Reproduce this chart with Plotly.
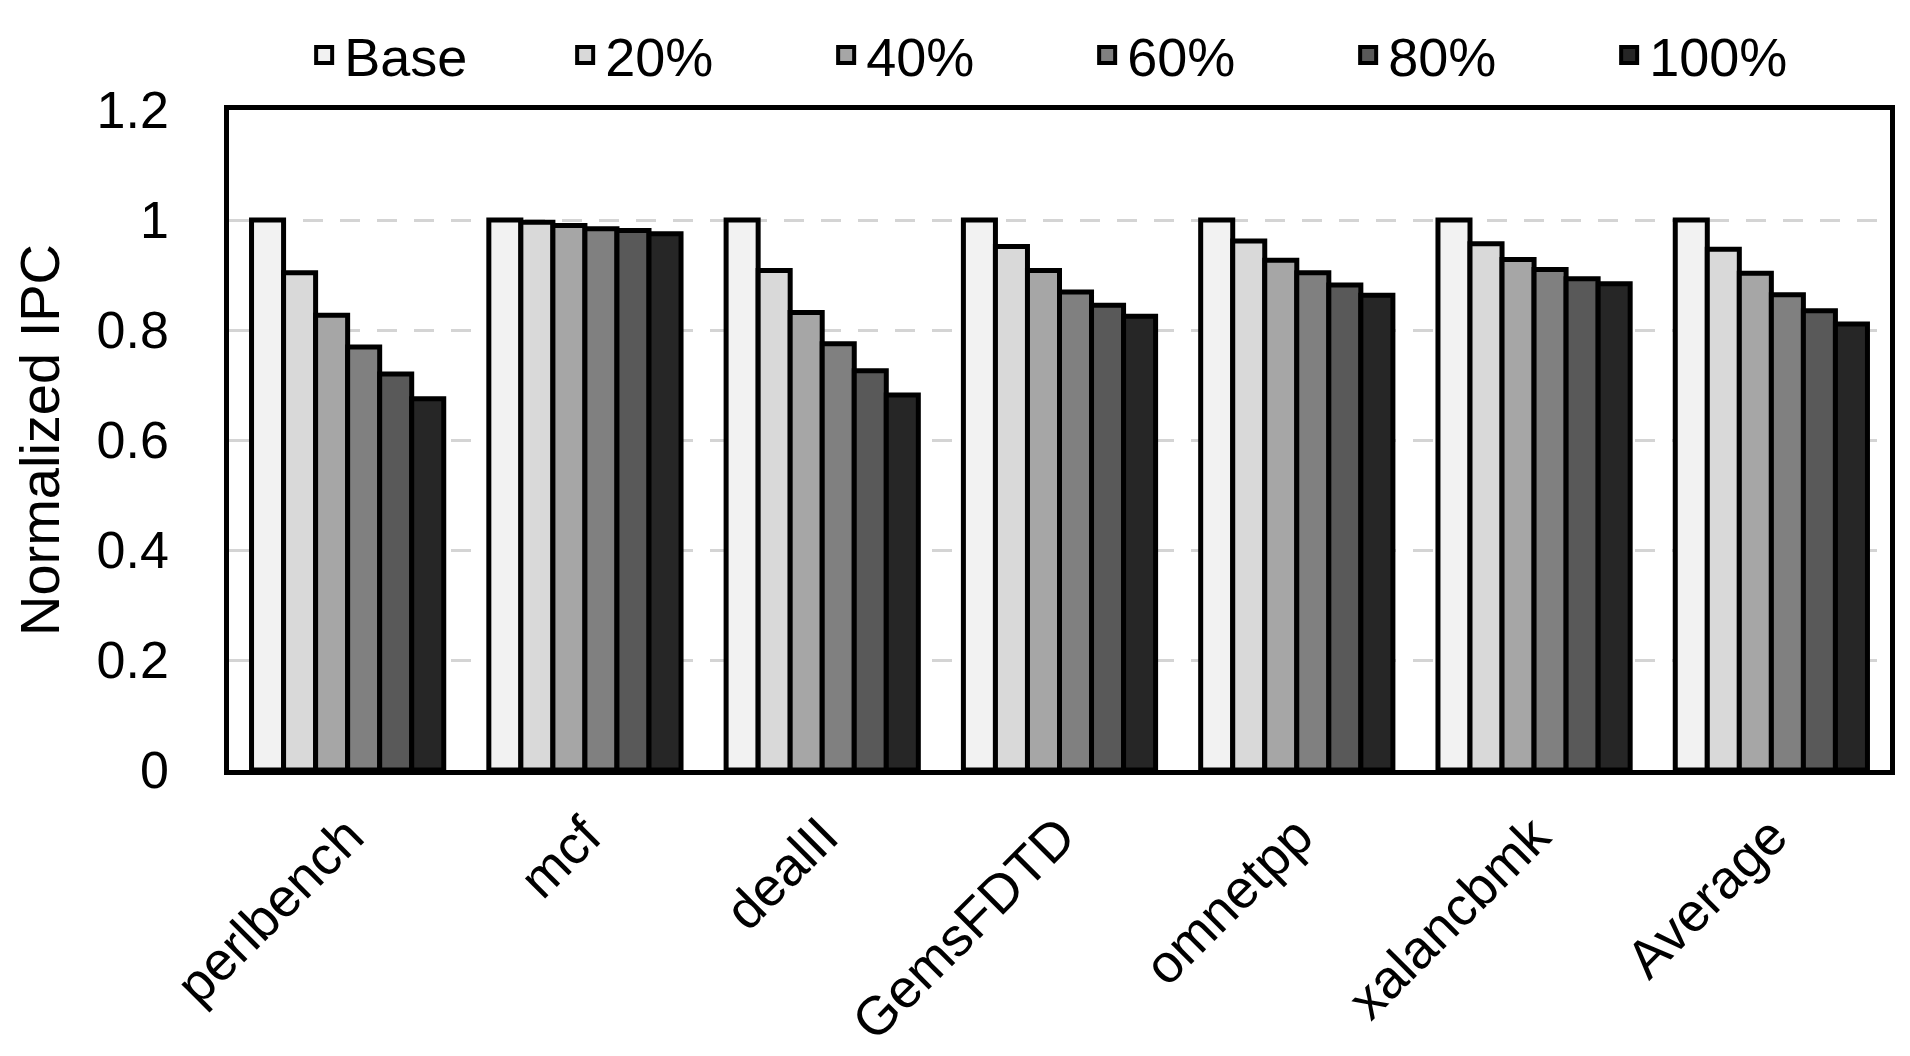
import plotly.graph_objects as go

categories = ["perlbench", "mcf", "dealII", "GemsFDTD", "omnetpp", "xalancbmk", "Average"]
series_names = ["Base", "20%", "40%", "60%", "80%", "100%"]
base = [1.0, 1.0, 1.0, 1.0, 1.0, 1.0, 1.0]
p20 = [0.904, 0.996, 0.908, 0.952, 0.962, 0.957, 0.947]
p40 = [0.827, 0.990, 0.832, 0.908, 0.927, 0.928, 0.903]
p60 = [0.769, 0.984, 0.775, 0.869, 0.904, 0.910, 0.864]
p80 = [0.720, 0.981, 0.726, 0.845, 0.882, 0.893, 0.835]
p100 = [0.675, 0.975, 0.682, 0.825, 0.863, 0.884, 0.811]
series_values = [base, p20, p40, p60, p80, p100]
colors = ["#f2f2f2", "#d9d9d9", "#a6a6a6", "#808080", "#595959", "#262626"]
y_ticks = [0, 0.2, 0.4, 0.6, 0.8, 1, 1.2]
y_tick_labels = ["0", "0.2", "0.4", "0.6", "0.8", "1", "1.2"]

FONT = "Liberation Sans, Arial, sans-serif"

fig = go.Figure()
for name, vals, col in zip(series_names, series_values, colors):
    fig.add_trace(go.Bar(
        x=categories, y=vals, name=name, showlegend=False,
        marker=dict(color=col, line=dict(color="black", width=5)),
    ))
# legend entries
for name, col in zip(series_names, colors):
    fig.add_trace(go.Scatter(
        x=[None], y=[None], mode="markers", name=name,
        marker=dict(symbol="square", size=16, color=col,
                    line=dict(color="black", width=4)),
    ))

fig.update_layout(
    width=1910, height=1056,
    margin=dict(l=221, r=28, t=102, b=294, autoexpand=False),
    paper_bgcolor="white", plot_bgcolor="white",
    barmode="group", bargap=0.19, bargroupgap=0,
    font=dict(family=FONT, color="black", size=52),
    legend=dict(
        orientation="h", xref="container", yref="container",
        x=0.565, xanchor="center", y=0.955, yanchor="middle",
        font=dict(size=54, family=FONT, color="black"),
        entrywidth=216, itemwidth=30, tracegroupgap=0,
        bgcolor="rgba(0,0,0,0)",
    ),
    xaxis=dict(
        type="category", tickangle=-45, tickfont=dict(size=54),
        showline=True, linecolor="black", linewidth=4.5, mirror=True,
        ticks="", showgrid=False, ticklabelstandoff=8,
    ),
    yaxis=dict(
        range=[0, 1.2], tickvals=y_ticks, ticktext=y_tick_labels,
        tickfont=dict(size=52),
        showline=True, linecolor="black", linewidth=4.5, mirror=True,
        showgrid=True, gridcolor="#d4d4d4", gridwidth=3, griddash="20px,17px",
        zeroline=False, ticks="", ticklabelstandoff=45,
        title=dict(text="Normalized IPC", font=dict(size=56), standoff=22),
    ),
)

fig.write_html("out.html")
